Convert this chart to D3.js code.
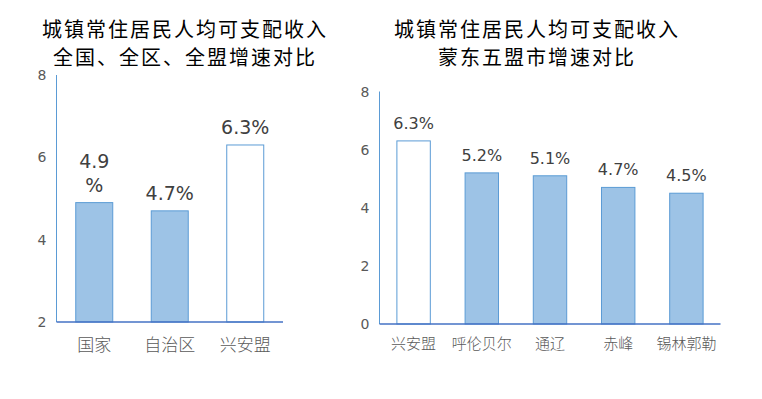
<!DOCTYPE html>
<html>
<head>
<meta charset="utf-8">
<script src="https://cdn.jsdelivr.net/npm/d3@7"></script>
<style>
  body { margin: 0; background: #fff; }
  svg text { font-family: "DejaVu Sans", "Noto Sans CJK SC", sans-serif; }
  .title { font-family: "Noto Sans CJK SC", sans-serif; font-size: 20px; letter-spacing: 2px; fill: #000; }
  .cat { font-family: "Noto Sans CJK SC", serif; font-size: 16px; fill: #595959; font-weight: 300; }
  .tick-lbl { font-size: 14px; fill: #595959; }
  .val { fill: #404040; }
</style>
</head>
<body>
<svg id="chart" width="762" height="399"></svg>
<script>
// left chart data
const leftCats = ["国家", "自治区", "兴安盟"];
const leftVals = [4.9, 4.7, 6.3];
const leftLabels = [["4.9", "%"], ["4.7%"], ["6.3%"]];
const leftTicks = [2, 4, 6, 8];
const leftTitle = ["城镇常住居民人均可支配收入", "全国、全区、全盟增速对比"];

// right chart data
const rightCats = ["兴安盟", "呼伦贝尔", "通辽", "赤峰", "锡林郭勒"];
const rightVals = [6.3, 5.2, 5.1, 4.7, 4.5];
const rightLabels = [["6.3%"], ["5.2%"], ["5.1%"], ["4.7%"], ["4.5%"]];
const rightTicks = [0, 2, 4, 6, 8];
const rightTitle = ["城镇常住居民人均可支配收入", "蒙东五盟市增速对比"];

const svg = d3.select("#chart");
const blue = "#5b9bd5";
const fillBlue = "#9dc3e6";

function drawChart(opt) {
  const g = svg.append("g");

  // titles
  opt.title.forEach((t, i) => {
    g.append("text")
      .attr("class", "title")
      .attr("x", opt.titleX + 1)
      .attr("y", 37 + i * 28)
      .attr("text-anchor", "middle")
      .text(t);
  });

  const x = d3.scaleBand()
    .domain(opt.cats)
    .range([opt.x0, opt.x1])
    .paddingInner(0.51)
    .paddingOuter(0.255);

  const y = d3.scaleLinear()
    .domain(opt.domain)
    .range([opt.y0, opt.y1]);

  // y tick labels (no tick marks)
  g.selectAll(".tick-lbl")
    .data(opt.ticks)
    .join("text")
    .attr("class", "tick-lbl")
    .attr("x", opt.x0 - 10)
    .attr("y", d => y(d) + 5)
    .attr("text-anchor", "end")
    .text(d => d);

  // bars
  g.selectAll(".bar")
    .data(opt.vals)
    .join("rect")
    .attr("class", "bar")
    .attr("x", (d, i) => x(opt.cats[i]))
    .attr("y", d => y(d))
    .attr("width", x.bandwidth())
    .attr("height", d => y(opt.domain[0]) - y(d))
    .attr("fill", (d, i) => opt.cats[i] === "兴安盟" ? "#fff" : fillBlue)
    .attr("stroke", blue)
    .attr("stroke-width", 1);

  // value labels
  opt.vals.forEach((v, i) => {
    const lines = opt.labels[i];
    const cx = x(opt.cats[i]) + x.bandwidth() / 2;
    lines.forEach((s, j) => {
      g.append("text")
        .attr("class", "val")
        .attr("x", cx)
        .attr("y", y(v) - opt.labelGap - (lines.length - 1 - j) * opt.lineH)
        .attr("text-anchor", "middle")
        .style("font-size", opt.valSize + "px")
        .text(s);
    });
  });

  // axes lines
  g.append("line")
    .attr("x1", opt.x0).attr("x2", opt.x0)
    .attr("y1", y(opt.domain[1])).attr("y2", y(opt.domain[0]))
    .attr("stroke", blue).attr("stroke-width", 1);
  g.append("line")
    .attr("x1", opt.x0).attr("x2", opt.x1)
    .attr("y1", y(opt.domain[0])).attr("y2", y(opt.domain[0]))
    .attr("stroke", "#4472c4").attr("stroke-width", 1.3);

  // category labels
  g.selectAll(".cat")
    .data(opt.cats)
    .join("text")
    .attr("class", "cat")
    .style("font-size", opt.catSize + "px")
    .attr("x", d => x(d) + x.bandwidth() / 2)
    .attr("y", y(opt.domain[0]) + opt.catGap)
    .attr("text-anchor", "middle")
    .text(d => d);
}

drawChart({
  title: leftTitle, titleX: 184,
  cats: leftCats, vals: leftVals, labels: leftLabels, ticks: leftTicks,
  domain: [2, 8], x0: 56.5, x1: 283, y0: 322, y1: 75,
  valSize: 19, labelGap: 11, lineH: 24, catSize: 17, catGap: 29
});

drawChart({
  title: rightTitle, titleX: 536,
  cats: rightCats, vals: rightVals, labels: rightLabels, ticks: rightTicks,
  domain: [0, 8], x0: 379.5, x1: 720.5, y0: 324, y1: 91.5,
  valSize: 16, labelGap: 12, lineH: 20, catSize: 15, catGap: 25
});
</script>
</body>
</html>
